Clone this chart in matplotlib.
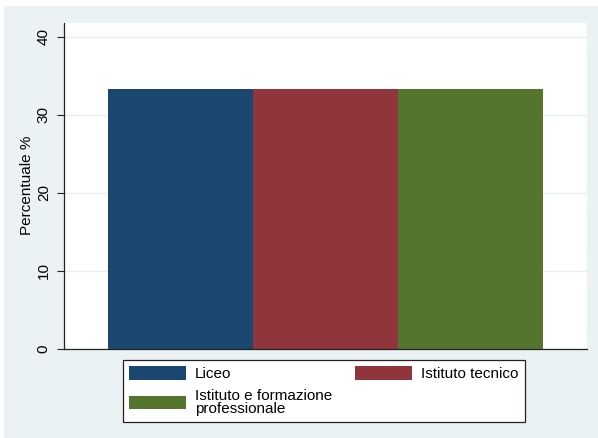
import matplotlib
matplotlib.use("Agg")
import matplotlib.pyplot as plt
from matplotlib.patches import Patch, Rectangle

plt.rcParams['font.family'] = ['Liberation Sans', 'DejaVu Sans']

# data
categories = ["Liceo", "Istituto tecnico", "Istituto e formazione\nprofessionale"]
values = [33.33, 33.33, 33.33]
colors = ["#1a476f", "#90353b", "#55752f"]
yticks = [0, 10, 20, 30, 40]

W, H = 598, 438
fig = plt.figure(figsize=(W / 100, H / 100), dpi=100)
fig.patch.set_facecolor("white")
# stata style outer panel
fig.patches.append(Rectangle((4 / W, 0), 1, (H - 6) / H, transform=fig.transFigure,
                             facecolor="#eaf2f3", edgecolor="none", zorder=-10))

ax = fig.add_axes([64 / W, (H - 348.5) / H, (587 - 64) / W, (348.5 - 22.7) / H])
ax.set_facecolor("white")

pos = list(range(len(values)))
ax.bar(pos, values, width=1.0, color=colors, edgecolor="none", zorder=2)

ax.set_xlim(-0.803, 2.803)
ax.set_ylim(0, 41.8)
ax.set_yticks(yticks)
ax.set_yticklabels([str(t) for t in yticks], rotation=90, va="center", fontsize=11)
ax.set_xticks([])
ax.tick_params(axis="y", length=5, width=0.8, pad=4.5, color="#222222")
ax.yaxis.grid(True, color="#e6eef1", linewidth=1.0, zorder=0)
ax.set_axisbelow(True)
for s in ["top", "right"]:
    ax.spines[s].set_visible(False)
for s in ["left", "bottom"]:
    ax.spines[s].set_color("#222222")
    ax.spines[s].set_linewidth(0.9)
ax.set_ylabel("Percentuale %", fontsize=11)
ax.yaxis.set_label_coords((34 - 64) / 523, 0.5)

# legend, columns filled top-down
handles = [Patch(facecolor=colors[0]), Patch(facecolor=colors[2]), Patch(facecolor=colors[1])]
labels = [categories[0], categories[2], categories[1]]
leg = fig.legend(handles, labels, ncol=2, loc="lower left",
                 bbox_to_anchor=(123 / W, 16 / H),
                 borderaxespad=0, fontsize=11, frameon=True,
                 fancybox=False, edgecolor="#222222", framealpha=1,
                 handlelength=3.7, handleheight=1.0, handletextpad=0.6,
                 borderpad=0.42, labelspacing=0.5, columnspacing=1.5)
leg.get_frame().set_linewidth(0.9)
for t in leg.get_texts():
    t.set_linespacing(0.9)

fig.savefig("out.png", dpi=100)
